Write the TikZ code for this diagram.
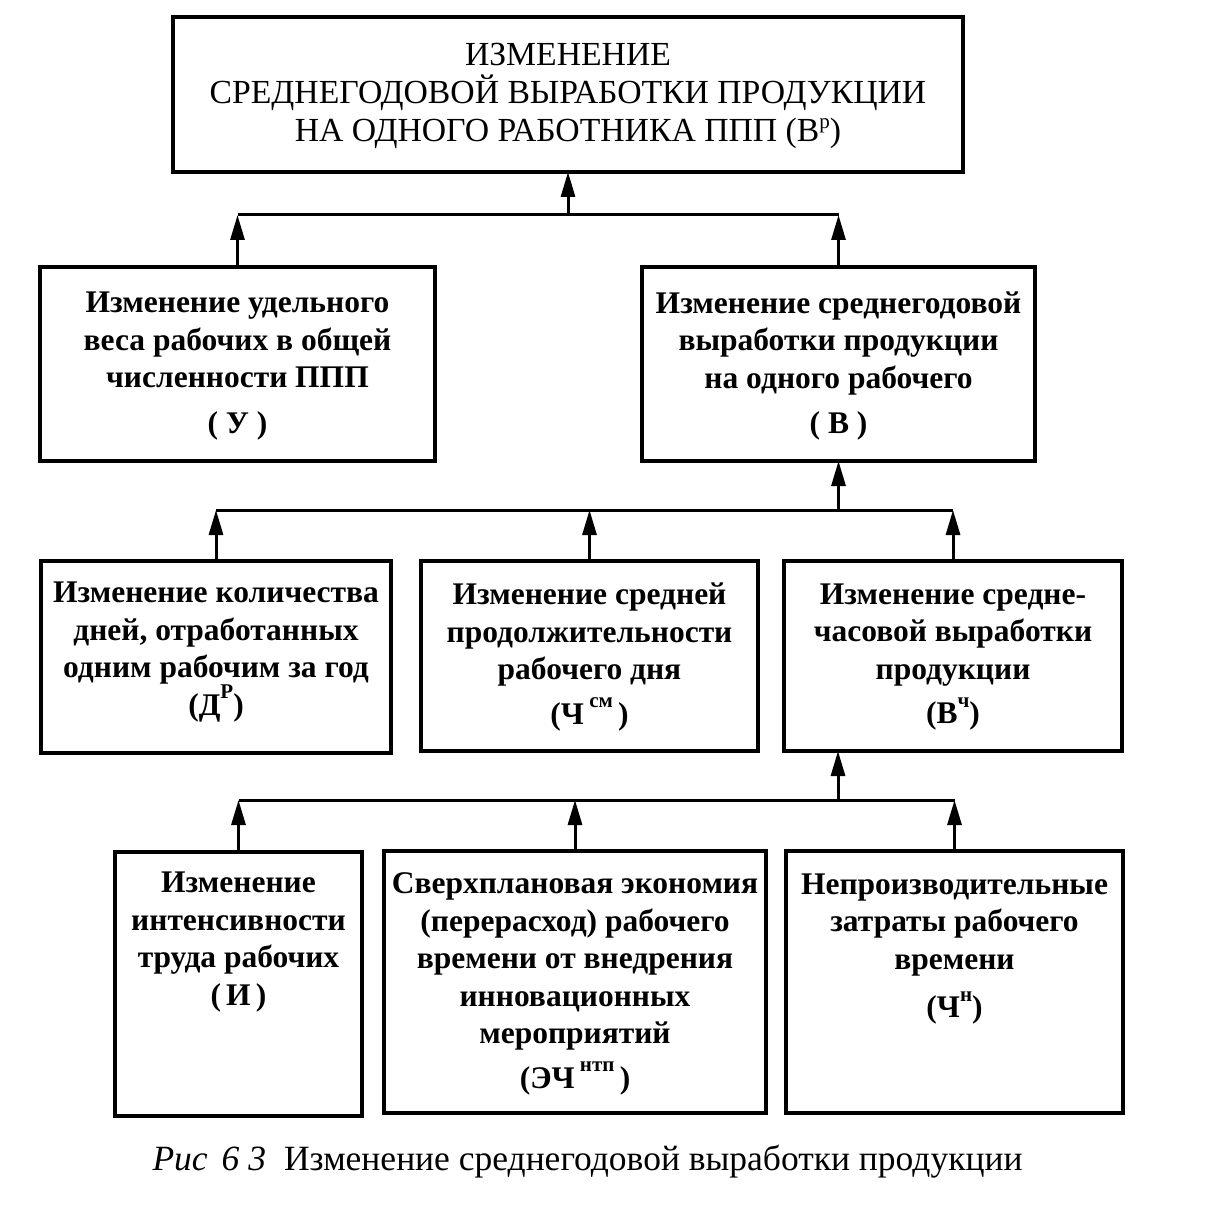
\documentclass[tikz,border=0pt]{standalone}
\usepackage{fontspec}
\setmainfont{Liberation Serif}
\usetikzlibrary{arrows.meta}
\newcommand{\supr}[1]{\raisebox{0.52em}{\fontsize{21}{21}\selectfont #1}}
\newcommand{\suptop}[1]{\raisebox{0.38em}{\fontsize{21}{21}\selectfont #1}}
\begin{document}
\begin{tikzpicture}[x=1pt,y=-1pt,
  box/.style={draw, line width=3.5pt, inner sep=0pt, outer sep=0pt},
  txt/.style={font=\fontsize{31.5}{37.5}\selectfont\bfseries, align=center, inner sep=0pt},
  conn/.style={line width=3pt},
  arr/.style={line width=3pt, -{Triangle[length=25pt,width=14pt]}}]
\useasboundingbox[fill=white] (0,0) rectangle (1214,1222);
% boxes
\node[box, minimum width=790, minimum height=155] (top) at (568,94.5) {};
\node[box, minimum width=395, minimum height=194] (U) at (237.5,364) {};
\node[box, minimum width=393, minimum height=194] (V) at (838.5,364) {};
\node[box, minimum width=350, minimum height=192] (D) at (216,657) {};
\node[box, minimum width=337, minimum height=190] (Ch) at (589.5,656) {};
\node[box, minimum width=338, minimum height=190] (Vch) at (953,656) {};
\node[box, minimum width=247, minimum height=264] (I) at (238.5,984) {};
\node[box, minimum width=382, minimum height=262] (E) at (575,982) {};
\node[box, minimum width=337, minimum height=262] (N) at (954.5,982) {};
% texts
\node[txt, font=\fontsize{33.7}{38}\selectfont] (ttop) at (568,96)
  {ИЗМЕНЕНИЕ\\СРЕДНЕГОДОВОЙ ВЫРАБОТКИ ПРОДУКЦИИ\\НА ОДНОГО РАБОТНИКА ППП (В\suptop{р})};
\node[txt] (tU) at (237.5,366)
  {Изменение удельного\\веса рабочих в общей\\численности ППП\\[8pt]( У )};
\node[txt] (tV) at (838.5,366)
  {Изменение среднегодовой\\выработки продукции\\на одного рабочего\\[8pt]( В )};
\node[txt] (tD) at (216,652)
  {Изменение количества\\дней, отработанных\\одним рабочим за год\\(Д\supr{Р})};
\node[txt] (tCh) at (589.5,657)
  {Изменение средней\\продолжительности\\рабочего дня\\[7pt](Ч\,\supr{см}\,)};
\node[txt] (tVch) at (953,657)
  {Изменение средне-\\часовой выработки\\продукции\\[7pt](В\supr{ч})};
\node[txt] (tI) at (238.5,942)
  {Изменение\\интенсивности\\труда рабочих\\(\,И\,)};
\node[txt] (tE) at (575,984)
  {Сверхплановая экономия\\(перерасход) рабочего\\времени от внедрения\\инновационных\\мероприятий\\[7pt](ЭЧ\,\supr{нтп}\,)};
\node[txt] (tN) at (954.5,949)
  {Непроизводительные\\затраты рабочего\\времени\\[11pt](Ч\supr{н})};
\node[inner sep=0pt, font=\fontsize{35.5}{40}\selectfont] (cap) at (587.5,1162)
  {\textit{Рис\hspace{14pt}6 3}\hspace{18pt}Изменение среднегодовой выработки продукции};
% connectors level 1
\coordinate (b1) at (568,215);
\draw[conn] (U.north |- b1) -- (V.north |- b1);
\draw[arr] (b1) -- (top.south);
\draw[arr] (U.north) -- (U.north |- b1);
\draw[arr] (V.north) -- (V.north |- b1);
% level 2
\coordinate (b2) at (838.5,510);
\draw[conn] (D.north |- b2) -- (Vch.north |- b2);
\draw[arr] (b2) -- (V.south);
\draw[arr] (D.north) -- (D.north |- b2);
\draw[arr] (Ch.north) -- (Ch.north |- b2);
\draw[arr] (Vch.north) -- (Vch.north |- b2);
% level 3
\coordinate (b3) at (838,800);
\draw[conn] (I.north |- b3) -- (N.north |- b3);
\draw[arr] (b3) -- (b3 |- Vch.south);
\draw[arr] (I.north) -- (I.north |- b3);
\draw[arr] (E.north) -- (E.north |- b3);
\draw[arr] (N.north) -- (N.north |- b3);
\end{tikzpicture}
\end{document}
